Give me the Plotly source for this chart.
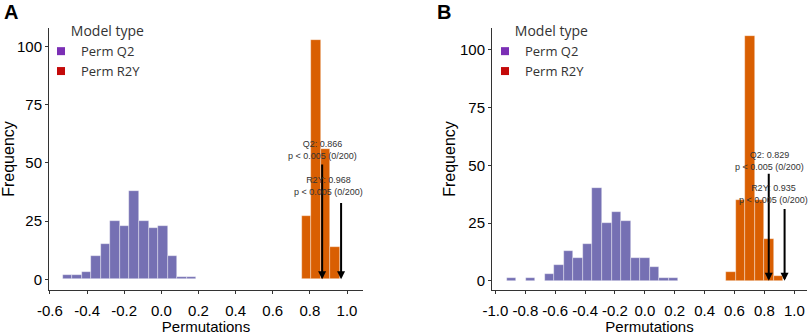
import plotly.graph_objects as go

# ---------------- data ----------------
# Panel A
a_q2_centers = [-0.5063, -0.4548, -0.4033, -0.3518, -0.3003, -0.2488, -0.1973,
                -0.1458, -0.0943, -0.0428, 0.0087, 0.0602, 0.1117, 0.1632]
a_q2_counts = [2, 2, 3, 10, 15, 25, 23, 38, 25, 22, 23, 10, 1, 1]
a_r2y_centers = [0.7818, 0.8333, 0.8848, 0.9363]
a_r2y_counts = [27, 103, 56, 14]
a_binwidth = 0.0515
a_q2_value = 0.866
a_r2y_value = 0.968
a_q2_arrow_top = 50
a_r2y_arrow_top = 33.4

# Panel B
b_q2_centers = [-0.894, -0.766, -0.638, -0.575, -0.511, -0.447, -0.383, -0.319,
                -0.255, -0.191, -0.127, -0.063, 0.001, 0.065, 0.129, 0.192]
b_q2_counts = [1, 1, 3, 7, 13, 10, 16, 40, 25, 30, 26, 10, 10, 6, 1, 1]
b_r2y_centers = [0.576, 0.640, 0.704, 0.767, 0.831, 0.895]
b_r2y_counts = [4, 35, 106, 35, 18, 2]
b_binwidth = 0.0639
b_q2_value = 0.829
b_r2y_value = 0.935
b_q2_arrow_top = 47
b_r2y_arrow_top = 31.7

a_xticks = [-0.6, -0.4, -0.2, 0.0, 0.2, 0.4, 0.6, 0.8, 1.0]
b_xticks = [-1.0, -0.8, -0.6, -0.4, -0.2, 0.0, 0.2, 0.4, 0.6, 0.8, 1.0]
yticks = [0, 25, 50, 75, 100]

legend_names = ["Perm Q2", "Perm R2Y"]

# ---------------- styles ----------------
PURPLE = "#7570B3"
ORANGE = "#D95F02"
LEG_PURPLE = "#7B2FB5"
LEG_RED = "#C40A0A"
AXIS = "#333333"
FONT = "Liberation Sans, Arial, sans-serif"
LEGFONT = "Open Sans, Noto Sans, sans-serif"

fig = go.Figure()


def add_panel(xa, ya, legend, q2c, q2n, r2c, r2n, w):
    fig.add_trace(go.Bar(x=q2c, y=q2n, width=w, marker=dict(color=PURPLE, line=dict(color="rgba(255,255,255,0.6)", width=0.6)),
                         xaxis=xa, yaxis=ya, showlegend=False, hoverinfo="x+y"))
    fig.add_trace(go.Bar(x=r2c, y=r2n, width=w, marker=dict(color=ORANGE, line=dict(color="rgba(255,255,255,0.6)", width=0.6)),
                         xaxis=xa, yaxis=ya, showlegend=False, hoverinfo="x+y"))
    for name, col in zip(legend_names, [LEG_PURPLE, LEG_RED]):
        fig.add_trace(go.Scatter(x=[None], y=[None], mode="markers", name=name,
                                 marker=dict(symbol="square", size=8, color=col),
                                 xaxis=xa, yaxis=ya, legend=legend, showlegend=True))


add_panel("x", "y", "legend", a_q2_centers, a_q2_counts, a_r2y_centers, a_r2y_counts, a_binwidth)
add_panel("x2", "y2", "legend2", b_q2_centers, b_q2_counts, b_r2y_centers, b_r2y_counts, b_binwidth)

H = 335.0
W = 809.0
ydom = [(H - 290) / H, (H - 28) / H]

axis_common = dict(showline=True, linecolor=AXIS, linewidth=1, ticks="outside", ticklen=3,
                   tickcolor=AXIS, tickwidth=1, showgrid=False, zeroline=False, automargin=False,
                   tickfont=dict(family=FONT, size=15, color="#000000"))
xtitle_font = dict(family=FONT, size=15, color="#000000")
ytitle_font = dict(family=FONT, size=16, color="#000000")

legend_common = dict(yanchor="top", xanchor="left", bgcolor="rgba(0,0,0,0)",
                     title=dict(text="Model type", side="top right", font=dict(family=LEGFONT, size=14, color="#333")),
                     font=dict(family=LEGFONT, size=13, color="#333"), itemwidth=30, tracegroupgap=0)

fig.update_layout(
    width=809, height=335,
    margin=dict(l=0, r=0, t=0, b=0, autoexpand=False),
    paper_bgcolor="white", plot_bgcolor="white",
    barmode="overlay",
    bargap=0,
    font=dict(family=FONT),
    xaxis=dict(domain=[49 / W, 363 / W], range=[-0.605, 1.086], tickvals=a_xticks,
               ticktext=[f"{v:.1f}" for v in a_xticks], anchor="y",
               title=dict(text="Permutations", standoff=4, font=xtitle_font), ticklabelstandoff=4, **axis_common),
    yaxis=dict(domain=ydom, range=[-4.6, 108], tickvals=yticks, anchor="x",
               title=dict(text="Frequency", standoff=0, font=ytitle_font), **axis_common),
    xaxis2=dict(domain=[492 / W, 807 / W], range=[-1.023, 1.085], tickvals=b_xticks,
                ticktext=[f"{v:.1f}" for v in b_xticks], anchor="y2",
                title=dict(text="Permutations", standoff=4, font=xtitle_font), ticklabelstandoff=4, **axis_common),
    yaxis2=dict(domain=ydom, range=[-4.0, 109.5], tickvals=yticks, anchor="x2",
                title=dict(text="Frequency", standoff=0, font=ytitle_font), **axis_common),
    legend=dict(x=41 / W, y=1 - 18 / H, **legend_common),
    legend2=dict(x=485 / W, y=1 - 18 / H, **legend_common),
)

# arrows
for xa, ya, xv, top in [("x", "y", a_q2_value, a_q2_arrow_top), ("x", "y", a_r2y_value, a_r2y_arrow_top),
                        ("x2", "y2", b_q2_value, b_q2_arrow_top), ("x2", "y2", b_r2y_value, b_r2y_arrow_top)]:
    fig.add_annotation(x=xv, y=0, ax=xv, ay=top, xref=xa, yref=ya, axref=xa, ayref=ya,
                       text="", showarrow=True, arrowhead=2, arrowsize=0.8, arrowwidth=2, arrowcolor="#000")

# labels
labels = [
    ("x", "y", 0.866, 55.4, f"Q2: {a_q2_value:.3f}"),
    ("x", "y", 0.90, 39.9, f"R2Y: {a_r2y_value:.3f}"),
    ("x2", "y2", 0.835, 52.0, f"Q2: {b_q2_value:.3f}"),
    ("x2", "y2", 0.858, 37.5, f"R2Y: {b_r2y_value:.3f}"),
]
for xa, ya, xv, yv, first in labels:
    fig.add_annotation(x=xv, y=yv, xref=xa, yref=ya, showarrow=False, align="center",
                       text=first + "<br>p &lt; 0.005 (0/200)",
                       font=dict(family=FONT, size=9, color="#333"))

# panel letters
fig.add_annotation(x=2 / W, y=1 + 1 / H, xref="paper", yref="paper", xanchor="left", yanchor="top",
                   text="<b>A</b>", showarrow=False, font=dict(family=FONT, size=20, color="#000"))
fig.add_annotation(x=435 / W, y=1 + 1 / H, xref="paper", yref="paper", xanchor="left", yanchor="top",
                   text="<b>B</b>", showarrow=False, font=dict(family=FONT, size=20, color="#000"))

fig.write_html("out.html", config={"displayModeBar": False},
               post_script="document.body.style.margin='0';document.body.style.padding='0';"
                           "document.documentElement.style.overflow='hidden';")
